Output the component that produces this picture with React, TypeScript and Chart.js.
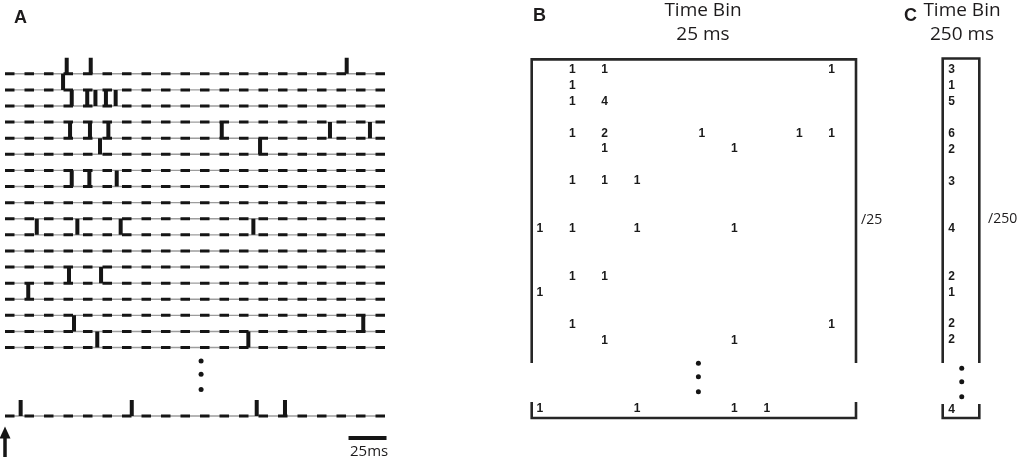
import React, { useEffect, useRef } from 'react';
import { Chart, registerables } from 'chart.js';
Chart.register(...registerables);

// ---------------- Data ----------------
const TRIAL_WINDOW_MS = 250;
const BIN_SIZES_MS = [25, 250];
const SCALE_BAR_MS = 25;
const STIMULUS_TIME_MS = 0;

// Panel A: spike times (ms) of the 18 trials shown, top to bottom
const spikeTimesA: number[][] = [
  [40.6, 56.4, 224.8],
  [38.2],
  [43.9, 54.1, 59.5, 66.4, 72.8],
  [],
  [42.8, 55.9, 68.0, 142.6, 213.8, 240.1],
  [62.5, 167.8],
  [],
  [43.9, 55.5, 73.5],
  [],
  [],
  [20.9, 47.6, 76.1, 163.4],
  [],
  [],
  [42.1, 63.2],
  [15.3],
  [],
  [45.4, 235.7],
  [60.7, 160.1],
];
// last trial (after the ellipsis)
const lastTrialSpikesA: number[] = [10.3, 83.4, 165.6, 184.2];

// Panel B: spike counts per 25 ms bin (10 bins) for each trial
const binCounts25: number[][] = [
  [0, 1, 1, 0, 0, 0, 0, 0, 0, 1],
  [0, 1, 0, 0, 0, 0, 0, 0, 0, 0],
  [0, 1, 4, 0, 0, 0, 0, 0, 0, 0],
  [0, 0, 0, 0, 0, 0, 0, 0, 0, 0],
  [0, 1, 2, 0, 0, 1, 0, 0, 1, 1],
  [0, 0, 1, 0, 0, 0, 1, 0, 0, 0],
  [0, 0, 0, 0, 0, 0, 0, 0, 0, 0],
  [0, 1, 1, 1, 0, 0, 0, 0, 0, 0],
  [0, 0, 0, 0, 0, 0, 0, 0, 0, 0],
  [0, 0, 0, 0, 0, 0, 0, 0, 0, 0],
  [1, 1, 0, 1, 0, 0, 1, 0, 0, 0],
  [0, 0, 0, 0, 0, 0, 0, 0, 0, 0],
  [0, 0, 0, 0, 0, 0, 0, 0, 0, 0],
  [0, 1, 1, 0, 0, 0, 0, 0, 0, 0],
  [1, 0, 0, 0, 0, 0, 0, 0, 0, 0],
  [0, 0, 0, 0, 0, 0, 0, 0, 0, 0],
  [0, 1, 0, 0, 0, 0, 0, 0, 0, 1],
  [0, 0, 1, 0, 0, 0, 1, 0, 0, 0],
];
const lastTrialCounts25: number[] = [1, 0, 0, 1, 0, 0, 1, 1, 0, 0];

// Panel C: counts per 250 ms bin (sum over the 25 ms bins)
const binCounts250: number[] = binCounts25.map((r) => r.reduce((a, b) => a + b, 0));
const lastTrialCount250: number = lastTrialCounts25.reduce((a, b) => a + b, 0);

// ---------------- Layout (positions in scale units) ----------------
const W = 1019;
const H = 457;
const INK = '#151515';
const TEXT = '#1d1b1c';

const A_LAST_ROW = 21.25;
const A_DOTS_T = 129;
const A_DOTS_ROWS = [17.84, 18.65, 19.6];
const A_SCALEBAR_START = 226;
const A_SCALEBAR_ROW = 22.62;
const A_ARROW_TIP_ROW = 21.9;

const B_LAST_ROW = 21.27;
const B_FRAME_END = 18.45;
const B_BRACKET_TOP = 20.89;
const B_DOTS_X = 4.89;
const B_DOTS_ROWS = [18.46, 19.31, 20.25];

const C_LAST_ROW = 21.39;
const C_FRAME_END = 18.49;
const C_BRACKET_TOP = 21.07;
const C_DOTS_X = 0.31;
const C_DOTS_ROWS = [18.82, 19.67, 20.61];

const baseDs = {
  pointRadius: 0,
  fill: false,
  tension: 0,
  clip: false as const,
  spanGaps: false,
};

const cellTextPlugin = {
  id: 'cellText',
  afterDatasetsDraw(chart: any) {
    const ctx = chart.ctx;
    chart.data.datasets.forEach((ds: any, i: number) => {
      if (!ds.cellText) return;
      const meta = chart.getDatasetMeta(i);
      ctx.save();
      ctx.font = 'bold 12px "Liberation Sans", Arial, sans-serif';
      ctx.fillStyle = '#1a1a1a';
      ctx.textAlign = 'center';
      ctx.textBaseline = 'middle';
      meta.data.forEach((el: any, j: number) => {
        ctx.fillText(String(ds.data[j].v), el.x, el.y + 0.5);
      });
      ctx.restore();
    });
  },
};

const arrowPlugin = {
  id: 'stimArrow',
  afterDatasetsDraw(chart: any, _args: any, opts: any) {
    if (!opts || !opts.enabled) return;
    const ctx = chart.ctx;
    const x = chart.scales.x.getPixelForValue(STIMULUS_TIME_MS);
    const tip = chart.scales.y.getPixelForValue(A_ARROW_TIP_ROW);
    ctx.save();
    ctx.fillStyle = INK;
    ctx.strokeStyle = INK;
    ctx.lineWidth = 3.5;
    ctx.beginPath();
    ctx.moveTo(x, tip + 8);
    ctx.lineTo(x, chart.height);
    ctx.stroke();
    ctx.beginPath();
    ctx.moveTo(x, tip);
    ctx.lineTo(x - 5.5, tip + 12);
    ctx.lineTo(x + 5.5, tip + 12);
    ctx.closePath();
    ctx.fill();
    ctx.restore();
  },
};

function frameDatasets(x0: number, x1: number, top: number, end: number, bTop: number, bBot: number) {
  const st = { ...baseDs, borderColor: '#262626', borderWidth: 2.6, borderJoinStyle: 'miter' as const };
  return [
    { ...st, data: [{ x: x0, y: end }, { x: x0, y: top }, { x: x1, y: top }, { x: x1, y: end }] },
    { ...st, data: [{ x: x0, y: bTop }, { x: x0, y: bBot }, { x: x1, y: bBot }, { x: x1, y: bTop }] },
  ];
}

// Chart.js paints dataset 0 last (on top); list back-to-front here and reverse.
function topLast(list: any[]) {
  return list.slice().reverse();
}

function buildA() {
  const rows = spikeTimesA.map((times, i) => ({ pos: i, times }));
  rows.push({ pos: A_LAST_ROW, times: lastTrialSpikesA });
  const datasets: any[] = [];
  rows.forEach((r) => {
    const pts = [{ x: 0, y: r.pos }, { x: TRIAL_WINDOW_MS, y: r.pos }];
    datasets.push({ ...baseDs, data: pts, borderColor: '#9d9d9d', borderWidth: 1.4 });
    datasets.push({ ...baseDs, data: pts, borderColor: INK, borderWidth: 3, borderDash: [9.5, 10] });
  });
  const spikePts: any[] = [];
  rows.forEach((r) => {
    r.times.forEach((t) => {
      spikePts.push({ x: t, y: r.pos }, { x: t, y: r.pos - 1 }, { x: t, y: null });
    });
  });
  datasets.push({ ...baseDs, data: spikePts, borderColor: INK, borderWidth: 4, borderCapStyle: 'butt' });
  datasets.push({
    ...baseDs,
    data: A_DOTS_ROWS.map((y) => ({ x: A_DOTS_T, y })),
    showLine: false,
    pointRadius: 2.5,
    pointBorderWidth: 0,
    pointBackgroundColor: INK,
  });
  datasets.push({
    ...baseDs,
    data: [
      { x: A_SCALEBAR_START, y: A_SCALEBAR_ROW },
      { x: A_SCALEBAR_START + SCALE_BAR_MS, y: A_SCALEBAR_ROW },
    ],
    borderColor: INK,
    borderWidth: 4,
  });
  return {
    datasets: topLast(datasets),
    padding: { left: 5, right: W - 385, top: 57.7, bottom: 41 },
    x: { min: 0, max: TRIAL_WINDOW_MS },
    y: { min: -1, max: A_LAST_ROW },
    arrow: true,
  };
}

function buildB() {
  const nb = TRIAL_WINDOW_MS / BIN_SIZES_MS[0];
  const cells: any[] = [];
  binCounts25.forEach((row, r) =>
    row.forEach((v, c) => {
      if (v > 0) cells.push({ x: c, y: r, v });
    })
  );
  lastTrialCounts25.forEach((v, c) => {
    if (v > 0) cells.push({ x: c, y: B_LAST_ROW, v });
  });
  const datasets: any[] = [
    ...frameDatasets(-0.25, nb - 0.25, -0.6, B_FRAME_END, B_BRACKET_TOP, 21.9),
    { ...baseDs, data: cells, showLine: false, cellText: true },
    {
      ...baseDs,
      data: B_DOTS_ROWS.map((y) => ({ x: B_DOTS_X, y })),
      showLine: false,
      pointRadius: 2.5,
      pointBorderWidth: 0,
      pointBackgroundColor: INK,
    },
  ];
  return {
    datasets: topLast(datasets),
    padding: { left: 531.7, right: 163, top: 59.4, bottom: 39 },
    x: { min: -0.25, max: nb - 0.25 },
    y: { min: -0.6, max: 21.9 },
    arrow: false,
  };
}

function buildC() {
  const cells: any[] = [];
  binCounts250.forEach((v, r) => {
    if (v > 0) cells.push({ x: 0, y: r, v });
  });
  cells.push({ x: 0, y: C_LAST_ROW, v: lastTrialCount250 });
  const datasets: any[] = [
    ...frameDatasets(-0.278, 0.852, -0.7, C_FRAME_END, C_BRACKET_TOP, 21.95),
    { ...baseDs, data: cells, showLine: false, cellText: true },
    {
      ...baseDs,
      data: C_DOTS_ROWS.map((y) => ({ x: C_DOTS_X, y })),
      showLine: false,
      pointRadius: 2.5,
      pointBorderWidth: 0,
      pointBackgroundColor: INK,
    },
  ];
  return {
    datasets: topLast(datasets),
    padding: { left: 942.7, right: 39.7, top: 58.5, bottom: 39 },
    x: { min: -0.278, max: 0.852 },
    y: { min: -0.7, max: 21.95 },
    arrow: false,
  };
}

function makeChart(canvas: HTMLCanvasElement, spec: any) {
  return new Chart(canvas, {
    type: 'line',
    data: { datasets: spec.datasets },
    options: {
      animation: false,
      responsive: false,
      devicePixelRatio: 1,
      events: [],
      layout: { padding: spec.padding },
      scales: {
        x: { type: 'linear', display: false, min: spec.x.min, max: spec.x.max },
        y: { type: 'linear', display: false, reverse: true, min: spec.y.min, max: spec.y.max },
      },
      plugins: {
        legend: { display: false },
        tooltip: { enabled: false },
        title: { display: false },
        stimArrow: { enabled: spec.arrow },
      } as any,
    },
    plugins: [cellTextPlugin, arrowPlugin],
  } as any);
}

const canvasStyle: React.CSSProperties = { position: 'absolute', left: 0, top: 0 };
const titleFont = '"Open Sans", "Noto Sans", sans-serif';
const labelFont = '"Liberation Sans", Arial, sans-serif';

export default function App() {
  const aRef = useRef<HTMLCanvasElement>(null);
  const bRef = useRef<HTMLCanvasElement>(null);
  const cRef = useRef<HTMLCanvasElement>(null);

  useEffect(() => {
    const charts = [
      makeChart(aRef.current!, buildA()),
      makeChart(bRef.current!, buildB()),
      makeChart(cRef.current!, buildC()),
    ];
    return () => charts.forEach((c) => c.destroy());
  }, []);

  const panelLabel = (text: string, left: number, top: number) => (
    <div
      style={{
        position: 'absolute',
        left,
        top,
        fontFamily: labelFont,
        fontWeight: 700,
        fontSize: 18,
        lineHeight: '18px',
        color: TEXT,
      }}
    >
      {text}
    </div>
  );

  const binTitle = (ms: number, center: number) => (
    <div
      style={{
        position: 'absolute',
        left: center - 100,
        width: 200,
        top: -2.7,
        textAlign: 'center',
        fontFamily: titleFont,
        fontSize: 19,
        lineHeight: '24px',
        color: TEXT,
      }}
    >
      Time Bin
      <br />
      {ms} ms
    </div>
  );

  const smallText = (text: string, left: number, top: number, size: number) => (
    <div
      style={{
        position: 'absolute',
        left,
        top,
        fontFamily: titleFont,
        fontSize: size,
        lineHeight: `${size + 2}px`,
        color: TEXT,
        whiteSpace: 'nowrap',
      }}
    >
      {text}
    </div>
  );

  return (
    <div
      style={{
        position: 'absolute',
        left: 0,
        top: 0,
        width: W,
        height: H,
        background: '#ffffff',
        overflow: 'hidden',
      }}
    >
      <canvas ref={aRef} width={W} height={H} style={canvasStyle} />
      <canvas ref={bRef} width={W} height={H} style={canvasStyle} />
      <canvas ref={cRef} width={W} height={H} style={canvasStyle} />
      {panelLabel('A', 14, 7.6)}
      {panelLabel('B', 533, 6)}
      {panelLabel('C', 904, 6)}
      {binTitle(BIN_SIZES_MS[0], 703)}
      {binTitle(BIN_SIZES_MS[1], 962)}
      {smallText('/' + BIN_SIZES_MS[0], 861, 210.5, 14)}
      {smallText('/' + BIN_SIZES_MS[1], 988, 209.5, 14)}
      {smallText(SCALE_BAR_MS + 'ms', 350, 441.5, 15)}
    </div>
  );
}
